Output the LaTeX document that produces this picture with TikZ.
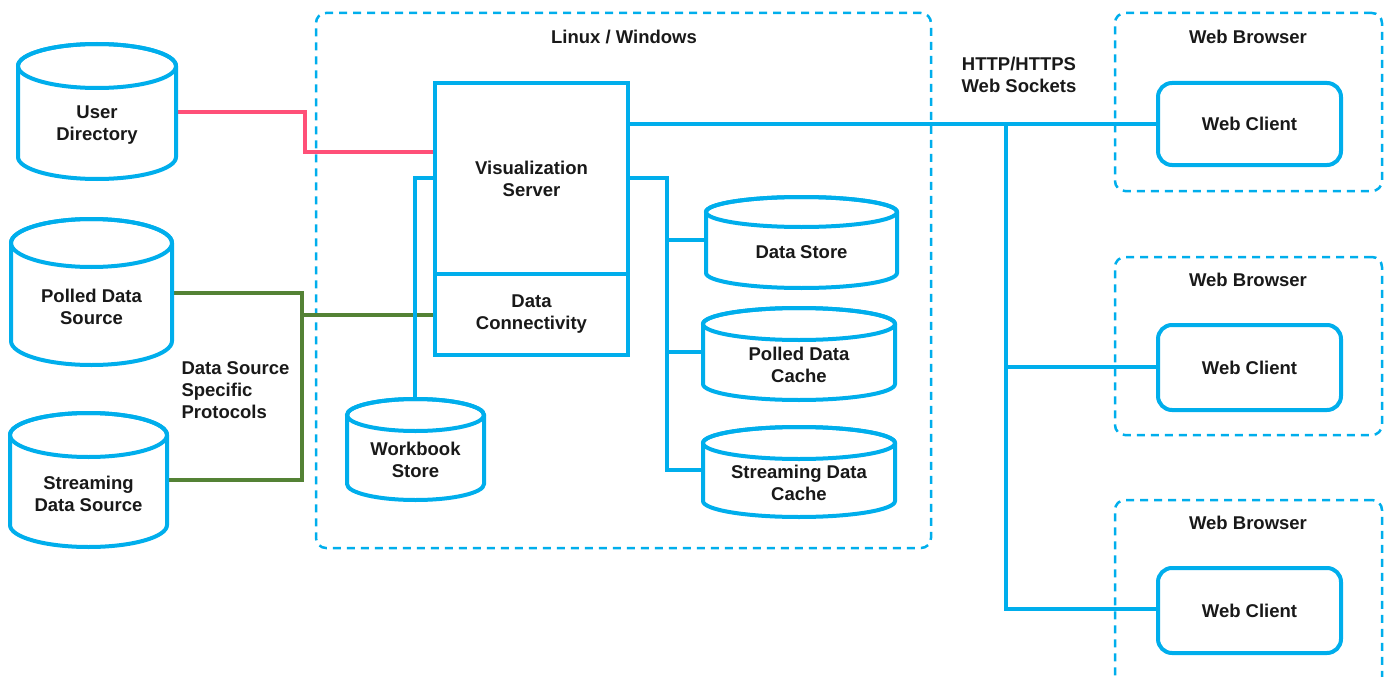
\documentclass[tikz,border=0pt]{standalone}
\usepackage{fontspec}
\setmainfont{Liberation Sans}
\definecolor{cblue}{RGB}{0,174,236}
\definecolor{cpink}{RGB}{255,80,120}
\definecolor{cgreen}{RGB}{84,130,53}
\pgfdeclarelayer{bg}
\pgfdeclarelayer{mid}
\pgfsetlayers{bg,mid,main}
\tikzset{
  box/.style={draw=cblue, line width=4pt, fill=white, outer sep=0pt, inner sep=0pt},
  wcbox/.style={box, rounded corners=14pt},
  dbox/.style={draw=cblue, line width=2.5pt, dash pattern=on 8pt off 6pt, rounded corners=10pt, outer sep=0pt, inner sep=0pt},
  cyl/.style={draw=cblue, line width=4pt},
  lbl/.style={font=\fontsize{18.5}{22}\selectfont\bfseries, align=center, text=black!90},
  bl/.style={draw=cblue, line width=3.5pt},
  pk/.style={draw=cpink, line width=3.5pt},
  gr/.style={draw=cgreen, line width=3.5pt},
}
% style, name, left, top, right, bottom, text
\newcommand\rnode[7]{\node[#1, minimum width={#5-#3}, minimum height={#6-#4}] (#2) at ({(#3+#5)/2},{(#4+#6)/2}) {#7};}
% name, left, right, top, bottom, ry, text
\newcommand\cylnode[7]{%
  \node[minimum width={#3-#2}, minimum height={#5-#4}, inner sep=0pt, outer sep=0pt] (#1) at ({(#2+#3)/2},{(#4+#5)/2}) {};
  \filldraw[cyl, fill=white] (#2,{#4+#6}) -- (#2,{#5-#6})
     arc[start angle=180, end angle=0, x radius={(#3-#2)/2}, y radius=#6]
     -- (#3,{#4+#6})
     arc[start angle=0, end angle=-180, x radius={(#3-#2)/2}, y radius=#6] -- cycle;
  \draw[cyl] ({(#2+#3)/2},{#4+#6}) ellipse [x radius={(#3-#2)/2}, y radius=#6];
  \node[lbl] (#1-t) at ({(#2+#3)/2},{(#4+#6+#5)/2+2.5}) {#7};
}
\begin{document}
\begin{tikzpicture}[x=1pt, y=-1pt]
\useasboundingbox (0,0) rectangle (1385,677);
\clip (0,0) rectangle (1385,677);

% dashed containers
\begin{pgfonlayer}{bg}
  \rnode{dbox}{lw}{316}{13}{931}{548}{}
  \rnode{dbox}{wb1}{1115}{13}{1382}{191}{}
  \rnode{dbox}{wb2}{1115}{257}{1382}{435}{}
  \rnode{dbox}{wb3}{1115}{500}{1382}{705}{}
\end{pgfonlayer}

% titles
\node[lbl] (lwt) at (624,37) {Linux / Windows};
\node[lbl] (wbt1) at (1248,37) {Web Browser};
\node[lbl] (wbt2) at (1248,280) {Web Browser};
\node[lbl] (wbt3) at (1248,523) {Web Browser};
\node[lbl] (http) at (1019,75) {HTTP/HTTPS\\Web Sockets};
\node[lbl, align=left, anchor=west] (dssp) at (178,390) {Data Source\\Specific\\Protocols};

% server boxes
\rnode{box,lbl}{vs}{435}{83}{628}{274}{Visualization\\Server}
\rnode{box,lbl}{dc}{435}{274}{628}{355}{Data\\Connectivity}

% web clients
\rnode{wcbox,lbl}{wc1}{1158}{83}{1341}{165}{Web Client}
\rnode{wcbox,lbl}{wc2}{1158}{325}{1341}{410}{Web Client}
\rnode{wcbox,lbl}{wc3}{1158}{568}{1341}{653}{Web Client}

% cylinders
\cylnode{ud}{18}{176}{44}{179}{22}{User\\Directory}
\cylnode{pds}{11}{172}{219}{365}{24}{Polled Data\\Source}
\cylnode{sds}{10}{167}{413}{547}{22}{Streaming\\Data Source}
\cylnode{wbs}{347}{484}{399}{500}{16}{Workbook\\Store}
\cylnode{ds}{706}{897}{197}{288}{15}{Data\hspace{0.25em}Store}
\cylnode{pdc}{703}{895}{308}{400}{16}{Polled Data\\Cache}
\cylnode{sdc}{703}{895}{427}{517}{16}{Streaming Data\\Cache}

% connectors
\begin{pgfonlayer}{mid}
  \draw[pk] (ud.east |- 0,112) -- (305,112) -- (305,152) -- (vs.west |- 0,152);
  \draw[gr] (pds.east |- 0,293) -- (302,293) -- (302,480) -- (sds.east |- 0,480);
  \draw[gr] (302,315) -- (dc.west |- 0,315);
  \draw[bl] (vs.west |- 0,178) -- (415,178) -- (wbs.north -| 415,0);
  \draw[bl] (vs.east |- 0,178) -- (667,178) -- (667,470) -- (sdc.west |- 0,470);
  \draw[bl] (667,240) -- (ds.west |- 0,240);
  \draw[bl] (667,352) -- (pdc.west |- 0,352);
  \draw[bl] (vs.east |- 0,124) -- (wc1.west |- 0,124);
  \draw[bl] (1006,124) -- (1006,609) -- (wc3.west |- 0,609);
  \draw[bl] (1006,367) -- (wc2.west |- 0,367);
\end{pgfonlayer}
\end{tikzpicture}
\end{document}
